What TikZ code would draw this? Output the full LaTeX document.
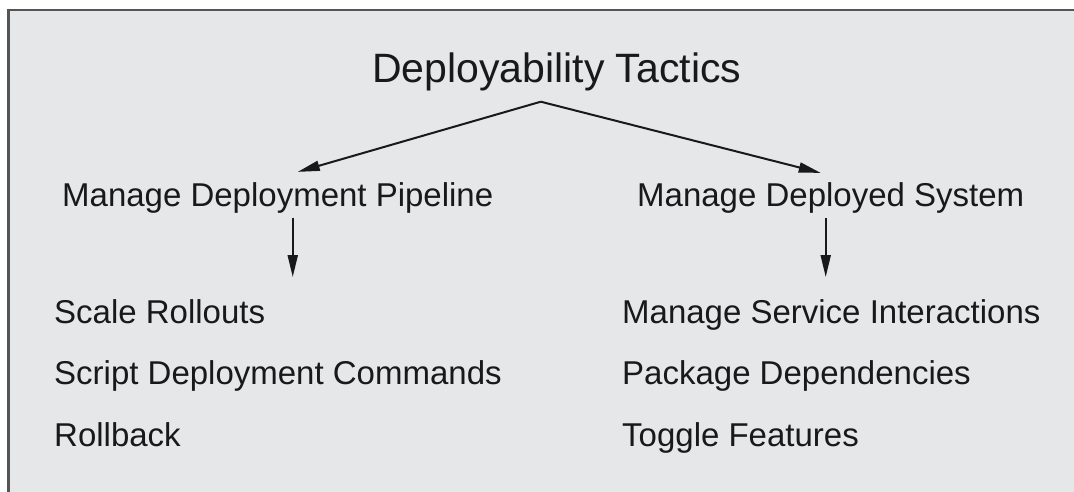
\documentclass[tikz,border=0pt]{standalone}
\usepackage{fontspec}
\setmainfont{Liberation Sans}
\usetikzlibrary{arrows.meta}
\definecolor{panel}{RGB}{230,231,233}
\definecolor{frame}{RGB}{85,85,85}
\definecolor{ink}{RGB}{25,25,25}
\tikzset{
  lbl/.style={anchor=base west, inner sep=0pt, text=ink, font=\fontsize{33}{40}\selectfont},
  ttl/.style={anchor=base west, inner sep=0pt, text=ink, font=\fontsize{41}{48}\selectfont},
  arr/.style={draw=ink, line width=2pt, -{Triangle[length=22pt,width=10pt]}},
}
\begin{document}
\begin{tikzpicture}[x=1pt,y=-1pt]
\useasboundingbox (0,0) rectangle (1074,492);
\clip (0,0) rectangle (1074,492);
\fill[white] (0,0) rectangle (1074,492);
\filldraw[fill=panel, draw=frame, line width=2.5pt] (8.5,10) rectangle (1100,520);

\node[ttl] (title) at (372,83) {Deployability Tactics};

\node[lbl] (pipe) at (62,207) {Manage Deployment Pipeline};
\node[lbl] (sys) at (637,207) {Manage Deployed System};

\node[lbl] (l1) at (54,323) {Scale Rollouts};
\node[lbl] (l2) at (54,384) {Script Deployment Commands};
\node[lbl] (l3) at (54,446) {Rollback};

\node[lbl] (r1) at (622,323) {Manage Service Interactions};
\node[lbl] (r2) at (622,384) {Package Dependencies};
\node[lbl] (r3) at (622,446) {Toggle Features};

\coordinate (apex) at ([shift={(-16,10)}]title.south);
\draw[arr] (apex) -- ([shift={(20,-11)}]pipe.north);
\draw[arr] (apex) -- ([shift={(-10,-10)}]sys.north);

\coordinate (pend) at ([shift={(15,63)}]pipe.south);
\coordinate (send) at ([shift={(-5,63)}]sys.south);
\draw[arr] ([shift={(15,4)}]pipe.south) -- (pend);
\draw[arr] ([shift={(-5,4)}]sys.south) -- (send);
\end{tikzpicture}
\end{document}
